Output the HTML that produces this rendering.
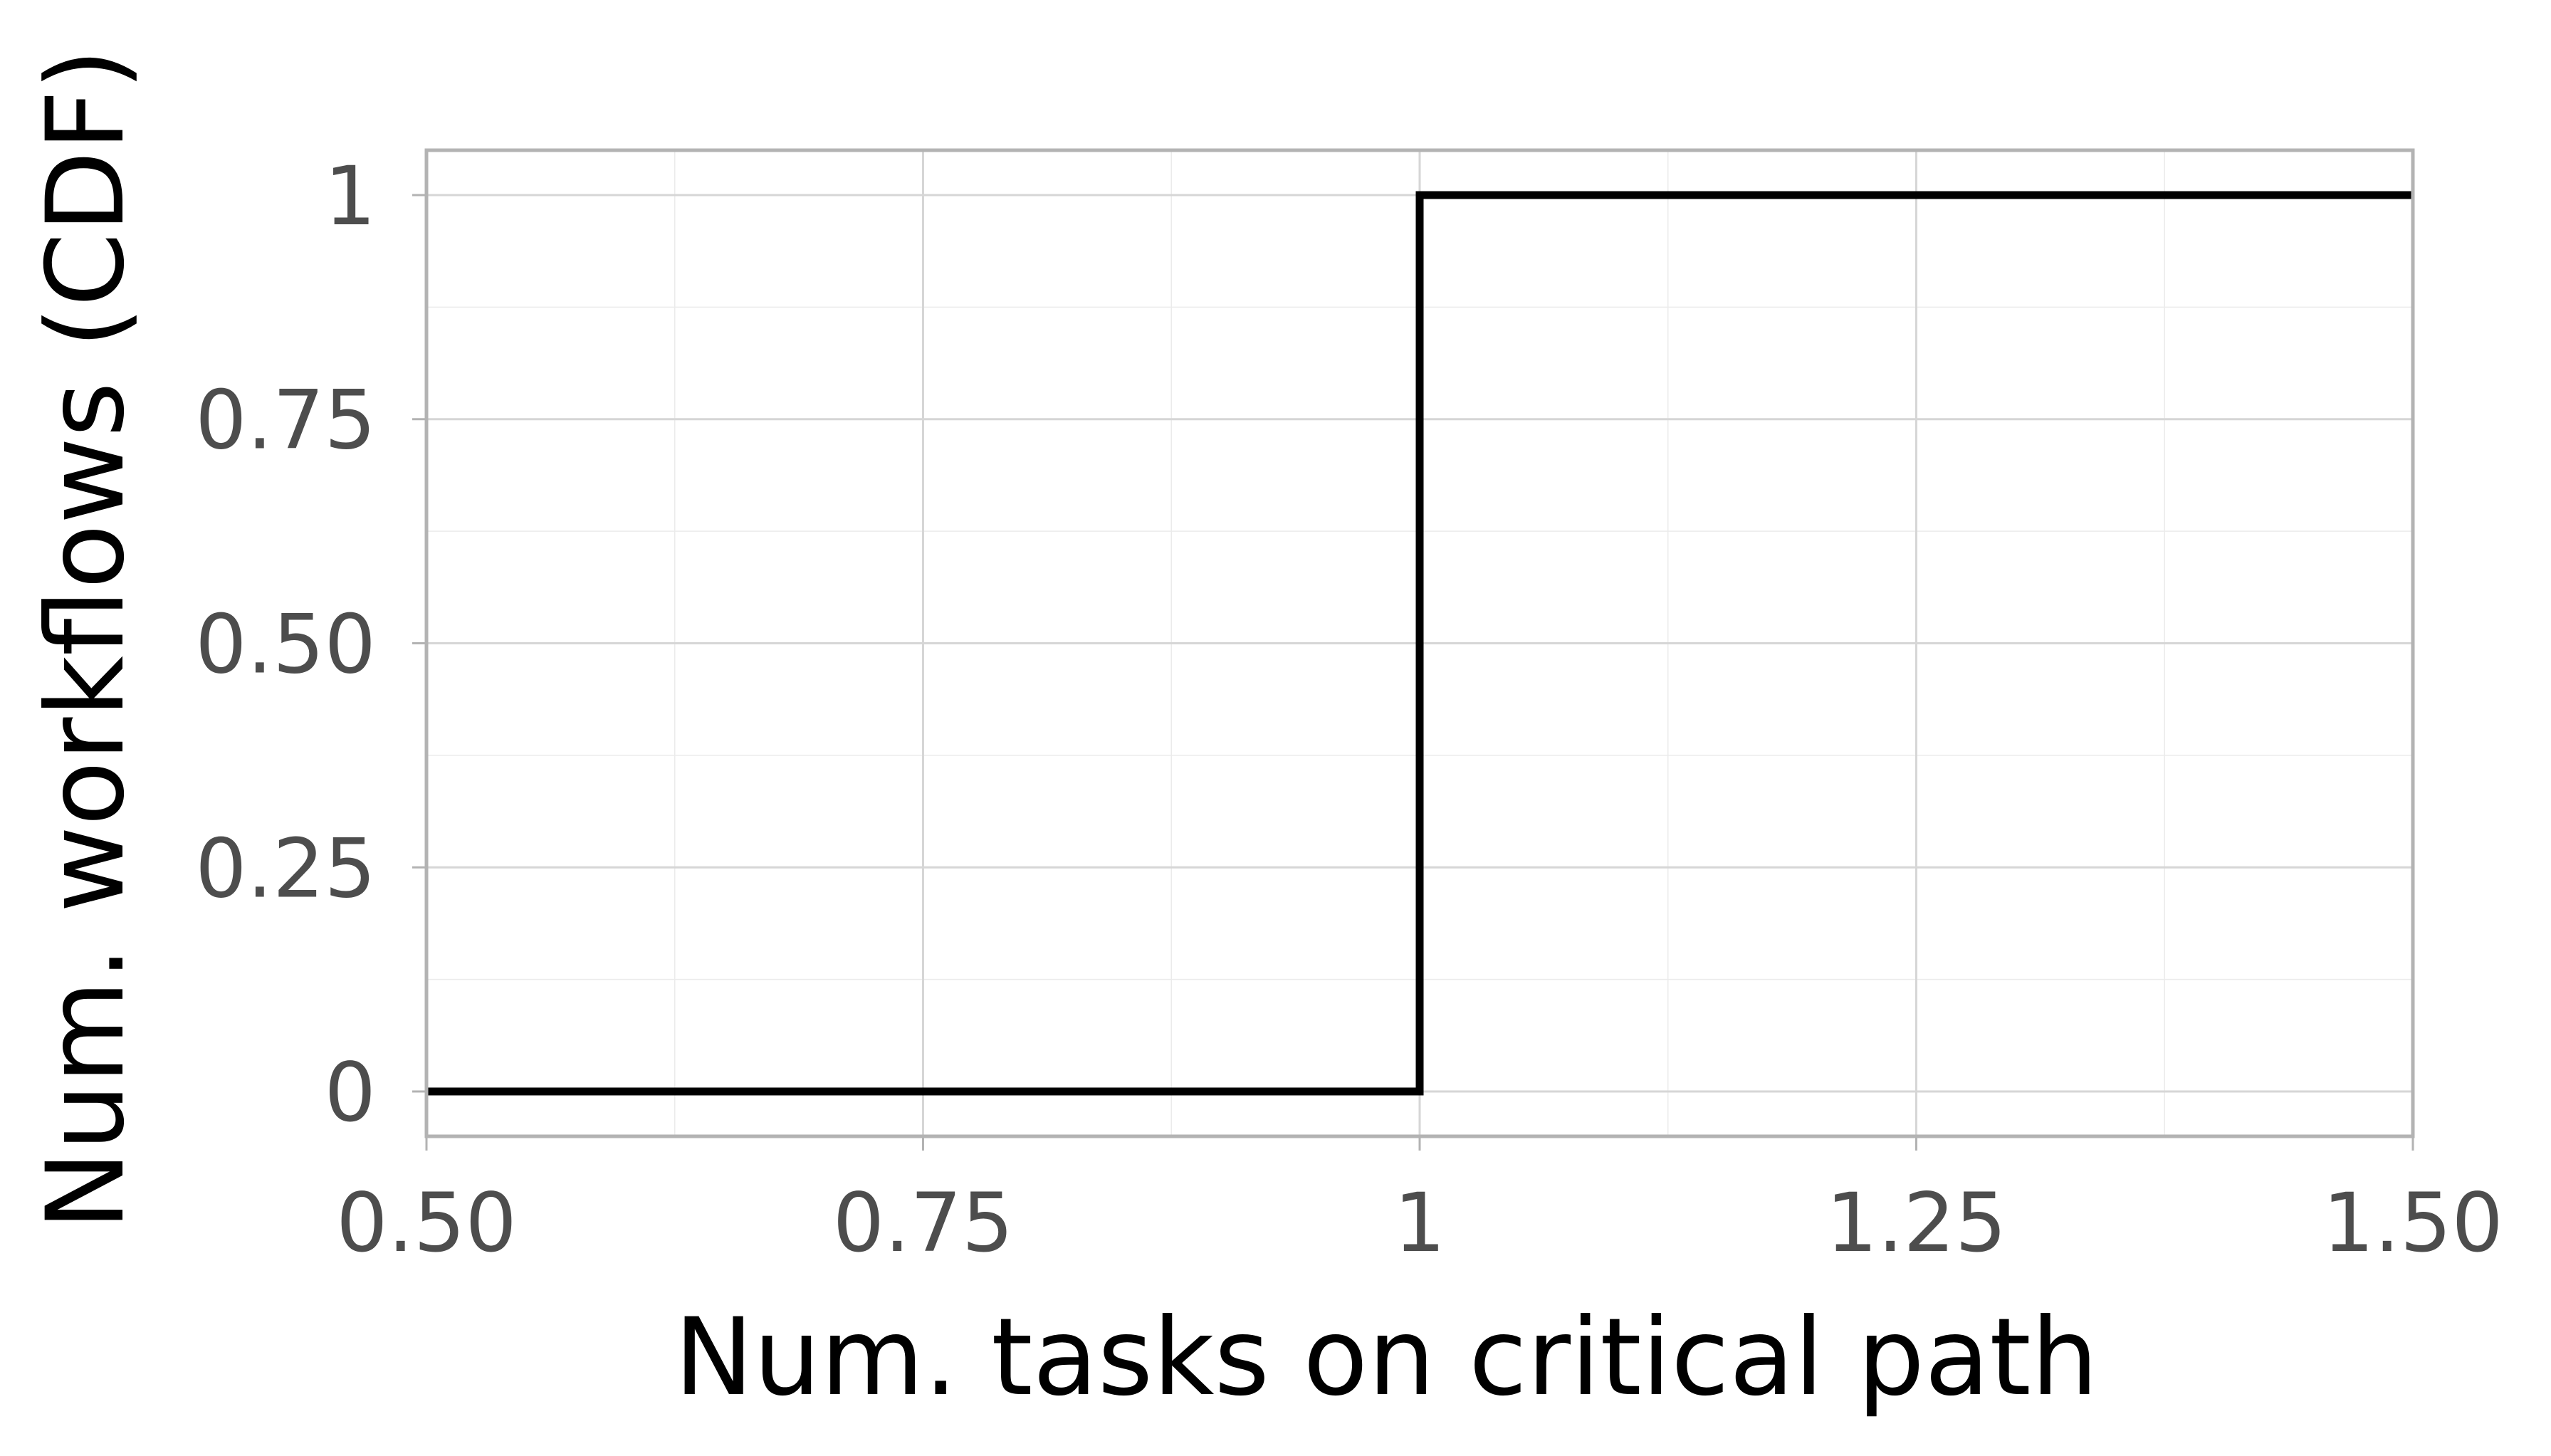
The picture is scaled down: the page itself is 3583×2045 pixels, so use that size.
<!DOCTYPE html>
<html><head><meta charset="utf-8"><style>
html,body{margin:0;padding:0;background:#fff;}
svg{display:block;font-family:"DejaVu Sans","Liberation Sans",sans-serif;}
</style></head><body>
<svg id="chart" width="3583" height="2045" viewBox="0 0 3583 2045" xmlns="http://www.w3.org/2000/svg">
<rect width="3583" height="2045" fill="#fff"/>
<g id="grid"></g>
<g id="marks"></g>
<g id="axes"></g>
<text x="1947" y="1958" font-size="150" text-anchor="middle" fill="#000" textLength="2000" lengthAdjust="spacingAndGlyphs">Num. tasks on critical path</text>
<text transform="translate(172,898) rotate(-90)" font-size="150" text-anchor="middle" fill="#000" textLength="1660" lengthAdjust="spacingAndGlyphs">Num. workflows (CDF)</text>
</svg>
<script>
const xTicks = [0.5, 0.75, 1, 1.25, 1.5];
const xTickLabels = ["0.50", "0.75", "1", "1.25", "1.50"];
const yTicks = [0, 0.25, 0.5, 0.75, 1];
const yTickLabels = ["0", "0.25", "0.50", "0.75", "1"];
const stepX = [0.5, 1, 1, 1.5];
const stepY = [0, 0, 1, 1];

const L = 599, R = 3389, T = 211, B = 1596;
const xMin = 0.5, xMax = 1.5, yMin = -0.05, yMax = 1.05;
const xs = v => L + (v - xMin) / (xMax - xMin) * (R - L);
const ys = v => B - (v - yMin) / (yMax - yMin) * (B - T);
const NS = "http://www.w3.org/2000/svg";
function mk(tag, attrs, parent) {
  const e = document.createElementNS(NS, tag);
  for (const k in attrs) e.setAttribute(k, attrs[k]);
  parent.appendChild(e);
  return e;
}
const grid = document.getElementById('grid');
const marks = document.getElementById('marks');
const axes = document.getElementById('axes');

for (let i = 0; i < xTicks.length - 1; i++) {
  const v = (xTicks[i] + xTicks[i + 1]) / 2;
  const l = mk('line', {x1: xs(v), x2: xs(v), y1: T, y2: B, stroke: '#ebebeb', 'stroke-width': 1.5}, grid);
  
  
}
for (let i = 0; i < yTicks.length - 1; i++) {
  const v = (yTicks[i] + yTicks[i + 1]) / 2;
  const l = mk('line', {x1: L, x2: R, y1: ys(v), y2: ys(v), stroke: '#ebebeb', 'stroke-width': 1.5}, grid);
  
  
}
xTicks.forEach((v, i) => {
  const g = mk('line', {x1: xs(v), x2: xs(v), y1: T, y2: B, stroke: '#d6d6d6', 'stroke-width': 3}, grid);
  
  
  const t = mk('line', {x1: xs(v), x2: xs(v), y1: B, y2: B + 20, stroke: '#b3b3b3', 'stroke-width': 3}, axes);
  
  
  const lb = mk('text', {x: xs(v), y: 1757, 'font-size': 114, 'text-anchor': 'middle', fill: '#4d4d4d'}, axes);
  lb.textContent = xTickLabels[i];
  
  
});
yTicks.forEach((v, i) => {
  const g = mk('line', {x1: L, x2: R, y1: ys(v), y2: ys(v), stroke: '#d6d6d6', 'stroke-width': 3}, grid);
  
  
  const t = mk('line', {x1: L - 20, x2: L, y1: ys(v), y2: ys(v), stroke: '#b3b3b3', 'stroke-width': 3}, axes);
  
  
  const lb = mk('text', {x: 528, y: ys(v) + 41, 'font-size': 114, 'text-anchor': 'end', fill: '#4d4d4d'}, axes);
  lb.textContent = yTickLabels[i];
  
  
});
const border = mk('rect', {x: L, y: T, width: R - L, height: B - T, fill: 'none', stroke: '#b3b3b3', 'stroke-width': 5}, axes);



const pts = stepX.map((x, i) => xs(x) + ',' + ys(stepY[i])).join(' ');
const line = mk('polyline', {points: pts, fill: 'none', stroke: '#000', 'stroke-width': 11, 'stroke-linejoin': 'miter'}, marks);


</script>
</body></html>
